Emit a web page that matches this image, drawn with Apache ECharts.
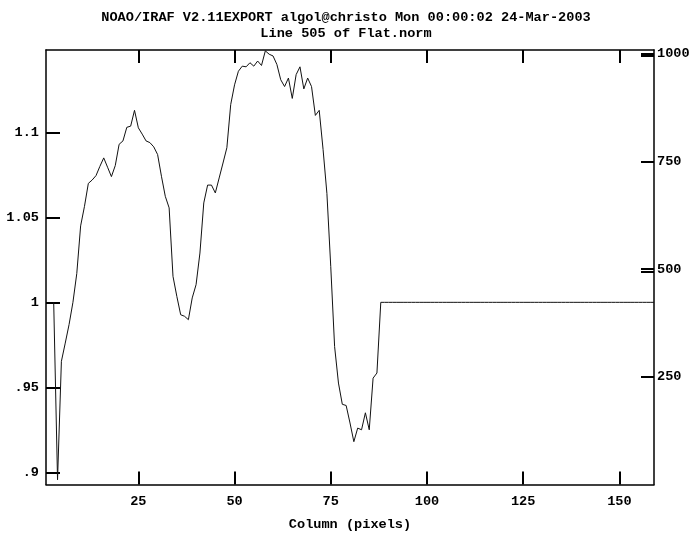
<!DOCTYPE html>
<html>
<head>
<meta charset="utf-8">
<script src="https://cdn.jsdelivr.net/npm/echarts@6/dist/echarts.min.js"></script>
<style>
html,body{margin:0;padding:0;background:#fff;}
#chart{width:692px;height:533px;}
</style>
</head>
<body>
<div id="chart"></div>
<script>
// ---- data ----
const titleLines = ['NOAO/IRAF V2.11EXPORT algol@christo Mon 00:00:02 24-Mar-2003', 'Line 505 of Flat.norm'];
const xAxisName = 'Column (pixels)';
const firstColumn = 3;
const flatValues = [
  1.000, 0.8956, 0.9653, 0.976, 0.987, 1.000, 1.017, 1.045, 1.0565, 1.070,
  1.072, 1.0746, 1.080, 1.085, 1.0795, 1.074, 1.0805, 1.093, 1.095, 1.103,
  1.1037, 1.113, 1.1027, 1.099, 1.095, 1.094, 1.0915, 1.087, 1.0742, 1.0624,
  1.0556, 1.0153, 1.0035, 0.9927, 0.9918, 0.9898, 1.0026, 1.0104, 1.029, 1.0585,
  1.069, 1.069, 1.0644, 1.0732, 1.082, 1.091, 1.1164, 1.128, 1.136, 1.139,
  1.1386, 1.141, 1.139, 1.142, 1.1394, 1.148, 1.146, 1.145, 1.140, 1.131,
  1.127, 1.132, 1.120, 1.134, 1.1386, 1.1256, 1.132, 1.127, 1.110, 1.113,
  1.090, 1.064, 1.021, 0.974, 0.9525, 0.940, 0.9393, 0.929, 0.918, 0.926,
  0.925, 0.935, 0.925, 0.9554, 0.9584, 1.000,
  1, 1, 1, 1, 1, 1, 1, 1, 1, 1,
  1, 1, 1, 1, 1, 1, 1, 1, 1, 1,
  1, 1, 1, 1, 1, 1, 1, 1, 1, 1,
  1, 1, 1, 1, 1, 1, 1, 1, 1, 1,
  1, 1, 1, 1, 1, 1, 1, 1, 1, 1,
  1, 1, 1, 1, 1, 1, 1, 1, 1, 1,
  1, 1, 1, 1, 1, 1, 1, 1, 1, 1,
  1
];
const xRange = [1, 159];
const xTickValues = [25, 50, 75, 100, 125, 150];
const xTickLabels = ['25', '50', '75', '100', '125', '150'];
const yRange = [0.8928, 1.1485];
const yTickValues = [0.9, 0.95, 1, 1.05, 1.1];
const yTickLabels = ['.9', '.95', '1', '1.05', '1.1'];
const rRange = [0, 1009];
const rTickValues = [250, 500, 750, 1000];
const rTickMarks = [250, 495, 500, 750, 995, 1000];
const rTickLabels = ['250', '500', '750', '1000'];

// ---- chart ----
const FONT = '"Liberation Mono", "DejaVu Sans Mono", monospace';
const seriesData = flatValues.map((v, i) => [firstColumn + i, v]);
function labelFor(values, labels) {
  return function (v) {
    for (let i = 0; i < values.length; i++) {
      if (Math.abs(values[i] - v) < 1e-6) return labels[i];
    }
    return '';
  };
}
const axisLineStyle = { color: '#000', width: 1.5 };
const tickStyle = { color: '#000', width: 2 };
const labelStyle = { color: '#000', fontFamily: FONT, fontWeight: 'bold', fontSize: 13.6 };

const chart = echarts.init(document.getElementById('chart'), null, { renderer: 'canvas' });
chart.setOption({
  animation: false,
  backgroundColor: '#fff',
  title: {
    text: titleLines.join('\n'),
    left: 'center',
    top: 5,
    textStyle: { color: '#000', fontFamily: FONT, fontWeight: 'bold', fontSize: 13.6, lineHeight: 16 }
  },
  grid: { left: 46, right: 38, top: 50, bottom: 48.5, containLabel: false, outerBoundsMode: 'none' },
  xAxis: [
    {
      type: 'value', position: 'bottom', min: xRange[0], max: xRange[1],
      name: xAxisName, nameLocation: 'middle', nameGap: 33,
      nameTextStyle: labelStyle,
      axisLine: { show: true, lineStyle: axisLineStyle },
      axisTick: { show: true, inside: true, length: 13, lineStyle: tickStyle, customValues: xTickValues },
      axisLabel: Object.assign({ show: true, margin: 10, customValues: xTickValues, formatter: labelFor(xTickValues, xTickLabels) }, labelStyle),
      splitLine: { show: false }
    },
    {
      type: 'value', position: 'top', min: xRange[0], max: xRange[1],
      axisLine: { show: true, lineStyle: axisLineStyle },
      axisTick: { show: true, inside: true, length: 13, lineStyle: tickStyle, customValues: xTickValues },
      axisLabel: { show: false },
      splitLine: { show: false }
    }
  ],
  yAxis: [
    {
      type: 'value', position: 'left', min: yRange[0], max: yRange[1],
      axisLine: { show: true, lineStyle: axisLineStyle },
      axisTick: { show: true, inside: true, length: 14, lineStyle: tickStyle, customValues: yTickValues },
      axisLabel: Object.assign({ show: true, margin: 7, customValues: yTickValues, formatter: labelFor(yTickValues, yTickLabels) }, labelStyle),
      splitLine: { show: false }
    },
    {
      type: 'value', position: 'right', min: rRange[0], max: rRange[1],
      axisLine: { show: true, lineStyle: axisLineStyle },
      axisTick: { show: true, inside: true, length: 13, lineStyle: tickStyle, customValues: rTickMarks },
      axisLabel: Object.assign({ show: true, margin: 3, customValues: rTickValues, formatter: labelFor(rTickValues, rTickLabels) }, labelStyle),
      splitLine: { show: false }
    }
  ],
  series: [
    {
      type: 'line', xAxisIndex: 0, yAxisIndex: 0,
      data: seriesData, showSymbol: false, symbol: 'none',
      lineStyle: { color: '#111', width: 1 },
      clip: true
    }
  ]
});
</script>
</body>
</html>
